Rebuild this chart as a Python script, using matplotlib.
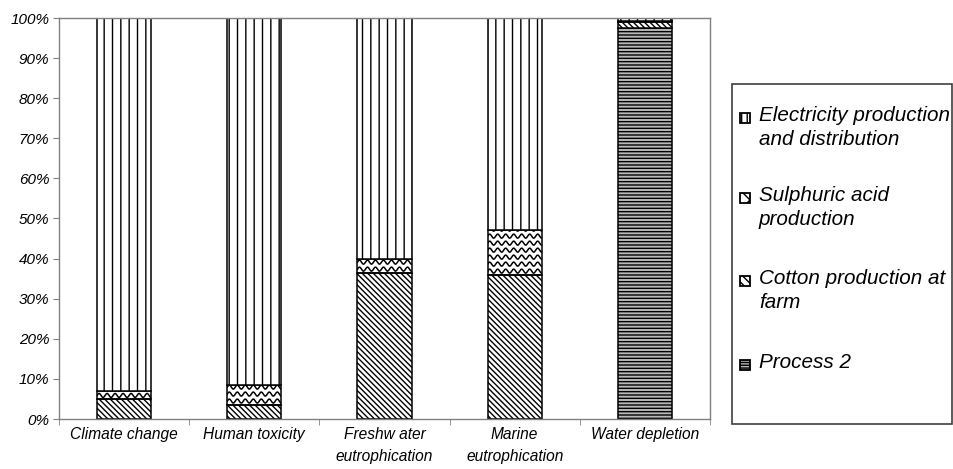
import numpy as np
import matplotlib
matplotlib.use("Agg")
import matplotlib.pyplot as plt
from matplotlib.patches import Rectangle

plt.rcParams['font.family'] = ['Liberation Sans', 'DejaVu Sans']
plt.rcParams['hatch.linewidth'] = 1.0

# ---------------------------
# Data (share of impact, %)
# ---------------------------
categories = ["Climate change", "Human toxicity", "Freshw ater\neutrophication",
              "Marine\neutrophication", "Water depletion"]
process2 = [0.0, 0.0, 0.0, 0.0, 97.6]
cotton = [5.0, 3.6, 36.5, 36.0, 1.3]
sulphuric = [2.0, 4.9, 3.4, 11.1, 0.4]
electricity = [93.0, 91.5, 60.1, 52.9, 0.7]

legend_labels = ["Electricity production\nand distribution",
                 "Sulphuric acid\nproduction",
                 "Cotton production at\nfarm",
                 "Process 2"]
yticks = [0, 10, 20, 30, 40, 50, 60, 70, 80, 90, 100]

# ---------------------------
# Figure / axes
# ---------------------------
fig = plt.figure(figsize=(9.54, 4.69), dpi=100)
ax = fig.add_axes([59 / 954, 1 - 419 / 469, 651 / 954, 401 / 469])
ax.set_xlim(-0.5, len(categories) - 0.5)
ax.set_ylim(0, 100)

x = np.arange(len(categories))
w = 0.415
edge = dict(edgecolor='black', linewidth=1.1)

b_p2 = ax.bar(x, process2, w, color='#b8b8b8', hatch='-----', **edge)
b_co = ax.bar(x, cotton, w, bottom=process2, color='white', hatch='\\' * 6, **edge)
bottom2 = np.add(process2, cotton)
b_su = ax.bar(x, sulphuric, w, bottom=bottom2, color='none', **edge)
bottom3 = bottom2 + np.array(sulphuric)
b_el = ax.bar(x, electricity, w, bottom=bottom3, color='white', hatch='||', **edge)


def wavy_fill(bar, period=8.0, amp=2.0, gap=7.0):
    """Wavy hatch (not available in matplotlib) drawn in pixel space, clipped to the bar."""
    x0, y0 = bar.get_x(), bar.get_y()
    px0, py0 = ax.transData.transform((x0, y0))
    px1, py1 = ax.transData.transform((x0 + bar.get_width(), y0 + bar.get_height()))
    xs = np.linspace(px0, px1, 300)
    yy = py0 + gap / 2
    inv = ax.transData.inverted()
    while yy < py1 + amp:
        ys = yy + amp * np.sin(2 * np.pi * (xs - px0) / period)
        pts = inv.transform(np.column_stack([xs, ys]))
        ln, = ax.plot(pts[:, 0], pts[:, 1], color='black', lw=1.1, zorder=0.5)
        ln.set_clip_path(bar)
        yy += gap


for bar in b_su:
    if bar.get_height() > 0:
        wavy_fill(bar)

# axes styling
for s in ax.spines.values():
    s.set_color('#808080')
    s.set_linewidth(1.0)

ax.set_yticks(yticks)
ax.set_yticklabels([f"{v}%" for v in yticks], fontsize=11, fontstyle='italic')
ax.tick_params(axis='y', length=4, color='#808080', pad=3)

ax.set_xticks(x)
ax.set_xticklabels(categories, fontsize=11.2, fontstyle='italic', linespacing=1.55)
ax.tick_params(axis='x', which='major', length=0, pad=6)
ax.set_xticks(np.arange(len(categories) + 1) - 0.5, minor=True)
ax.tick_params(axis='x', which='minor', length=4, color='#808080')

# ---------------------------
# Legend (drawn by hand in pixel layout)
# ---------------------------
W, H = 954, 469


def fx(px):
    return px / W


def fy(py):
    return 1 - py / H


fig.patches.append(Rectangle((fx(732), fy(424)), fx(952) - fx(732), fy(84) - fy(424),
                             transform=fig.transFigure, facecolor='white',
                             edgecolor='#404040', linewidth=1.2))

leg_styles = [dict(facecolor='white', hatch='|||'),
              dict(facecolor='white', hatch='xx'),
              dict(facecolor='white', hatch='\\\\\\\\'),
              dict(facecolor='#b8b8b8', hatch='------')]
leg_rows = [118, 198, 281, 365]
for lab, st, row in zip(legend_labels, leg_styles, leg_rows):
    fig.patches.append(Rectangle((fx(740), fy(row + 5)), fx(10), 10 / H,
                                 transform=fig.transFigure, edgecolor='black',
                                 linewidth=1.3, **st))
    fig.text(fx(759), fy(row - 12), lab, fontsize=14.9, fontstyle='italic',
             va='top', ha='left', linespacing=1.32)

fig.savefig("out.png", dpi=100)
